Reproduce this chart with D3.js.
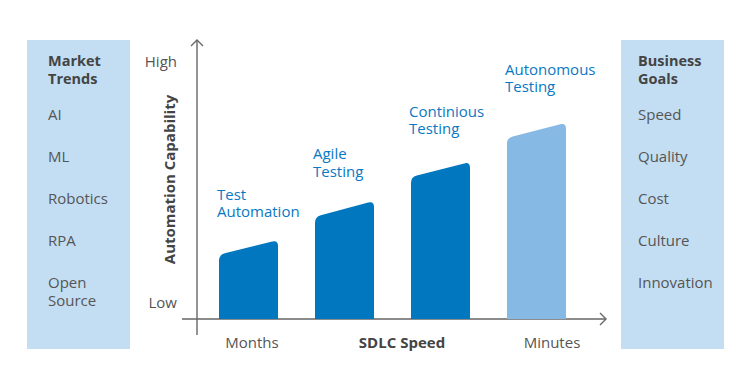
<!DOCTYPE html>
<html>
<head>
<meta charset="utf-8">
<script src="https://cdn.jsdelivr.net/npm/d3@7"></script>
<style>
  body { margin: 0; background: #fff; }
  svg { display: block; font-family: "Open Sans", sans-serif; }
</style>
</head>
<body>
<div id="chart"></div>
<script>
// stages of testing maturity, capability at left/right edge of each bar (0-100)
const stages = ["Test Automation", "Agile Testing", "Continious Testing", "Autonomous Testing"];
const capStart = [23, 36.6, 50.9, 64.9];
const capEnd = [28.3, 42.3, 56.3, 70.3];
const highlight = [false, false, false, true];

const yTicks = [{ label: "High", v: 92 }, { label: "Low", v: 5.8 }];
const speedTicks = ["Months", "SDLC Speed", "Minutes"];

const marketTrends = ["AI", "ML", "Robotics", "RPA", "Open Source"];
const businessGoals = ["Speed", "Quality", "Cost", "Culture", "Innovation"];

const width = 751, height = 381;
const svg = d3.select("#chart").append("svg")
  .attr("width", width)
  .attr("height", height);

const x = d3.scaleBand().domain(stages).range([219, 566]).paddingInner(0.385).paddingOuter(0);
const y = d3.scaleLinear().domain([0, 100]).range([319, 40]);

// side panels
const panels = [
  { x: 27, pad: 21, title: ["Market", "Trends"], items: marketTrends },
  { x: 621, pad: 17, title: ["Business", "Goals"], items: businessGoals }
];
const panel = svg.selectAll("g.panel")
  .data(panels)
  .join("g")
  .attr("class", "panel")
  .attr("transform", (d) => `translate(${d.x},40)`);

panel.append("rect")
  .attr("width", 103)
  .attr("height", 309)
  .attr("fill", "#c3def3");

panel.each(function (p) {
  const g = d3.select(this);
  g.selectAll("text.title")
    .data(p.title)
    .join("text")
    .attr("class", "title")
    .attr("x", p.pad)
    .attr("y", (d, i) => 26 + i * 17.5)
    .attr("font-size", 14.5)
    .attr("font-weight", "bold")
    .attr("fill", "#444")
    .text((d) => d);

  g.selectAll("text.item")
    .data(p.items)
    .join("text")
    .attr("class", "item")
    .attr("x", p.pad)
    .attr("y", (d, i) => 80 + i * 42)
    .attr("font-size", 15)
    .attr("fill", "#555")
    .selectAll("tspan")
    .data((d) => d.split(" "))
    .join("tspan")
    .attr("x", p.pad)
    .attr("dy", (d, i) => (i ? 18 : 0))
    .text((d) => d);
});

// axes
const axis = svg.append("g")
  .attr("stroke", "#666")
  .attr("stroke-width", 1.4)
  .attr("fill", "none");
axis.append("line").attr("x1", 197).attr("x2", 197).attr("y1", y(100)).attr("y2", 335);
axis.append("line").attr("x1", 182).attr("x2", 606).attr("y1", y(0)).attr("y2", y(0));
axis.append("path").attr("d", `M191,${y(100) + 6}L197,${y(100)}L203,${y(100) + 6}`);
axis.append("path").attr("d", `M600,${y(0) - 6}L606,${y(0)}L600,${y(0) + 6}`);

// bars with slanted, rounded tops
const r = 6;
function barPath(i) {
  const x0 = x(stages[i]), x1 = x0 + x.bandwidth();
  const yL = y(capStart[i]), yR = y(capEnd[i]), b = y(0);
  const len = Math.hypot(x1 - x0, yR - yL);
  const dx = (x1 - x0) / len, dy = (yR - yL) / len;
  return `M${x0},${b}L${x0},${yL + r}Q${x0},${yL} ${x0 + r * dx},${yL + r * dy}` +
    `L${x1 - r * dx},${yR - r * dy}Q${x1},${yR} ${x1},${yR + r}L${x1},${b}Z`;
}

svg.append("g")
  .selectAll("path")
  .data(stages)
  .join("path")
  .attr("d", (d, i) => barPath(i))
  .attr("fill", (d, i) => (highlight[i] ? "#86b9e3" : "#0077be"));

// stage labels above bars, two lines each
const labels = svg.append("g")
  .attr("font-size", 15)
  .attr("fill", "#0a78c2");
stages.forEach((s, i) => {
  const top = y(capStart[i]) - 55 - i * 2.7;
  labels.selectAll(`text.l${i}`)
    .data(s.split(" "))
    .join("text")
    .attr("class", `l${i}`)
    .attr("x", x(s) - 2)
    .attr("y", (d, j) => top + j * 17.5)
    .text((d) => d);
});

// y labels
svg.append("g")
  .selectAll("text")
  .data(yTicks)
  .join("text")
  .attr("x", 177)
  .attr("y", (d) => y(d.v) + 5)
  .attr("text-anchor", "end")
  .attr("font-size", 15)
  .attr("fill", "#555")
  .text((d) => d.label);

svg.append("text")
  .attr("transform", `translate(175,${y(50)}) rotate(-90)`)
  .attr("text-anchor", "middle")
  .attr("font-size", 15)
  .attr("font-weight", "bold")
  .attr("fill", "#444")
  .text("Automation Capability");

// x labels
const sx = d3.scalePoint().domain(speedTicks).range([252, 552]);
svg.append("g")
  .selectAll("text")
  .data(speedTicks)
  .join("text")
  .attr("x", (d) => sx(d))
  .attr("y", 348)
  .attr("text-anchor", "middle")
  .attr("font-size", 15)
  .attr("font-weight", (d, i) => (i === 1 ? "bold" : "normal"))
  .attr("fill", (d, i) => (i === 1 ? "#444" : "#555"))
  .text((d) => d);
</script>
</body>
</html>
